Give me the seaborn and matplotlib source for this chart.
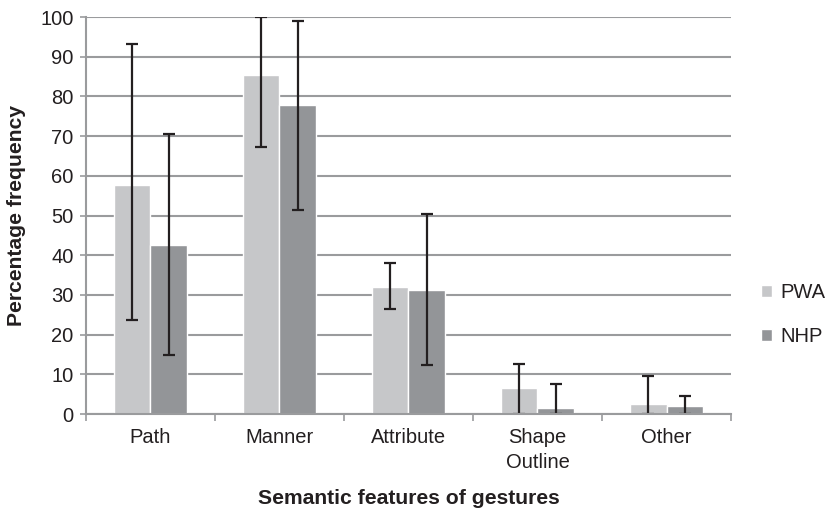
import numpy as np
import pandas as pd
import matplotlib
matplotlib.use("Agg")
import matplotlib.pyplot as plt
import seaborn as sns

# values
categories = ["Path", "Manner", "Attribute", "Shape\nOutline", "Other"]
pwa = [57.7, 85.3, 32.1, 6.5, 2.5]
nhp = [42.6, 77.8, 31.2, 1.4, 2.1]
pwa_err_low = [23.8, 67.2, 26.4, 0.0, 0.0]
pwa_err_high = [93.1, 100.0, 38.0, 12.6, 9.6]
nhp_err_low = [14.8, 51.5, 12.3, 0.0, 0.0]
nhp_err_high = [70.6, 99.0, 50.4, 7.6, 4.5]

df = pd.DataFrame({
    "feature": categories * 2,
    "group": ["PWA"] * 5 + ["NHP"] * 5,
    "value": pwa + nhp,
})

sns.set_style("white")
plt.rcParams["font.family"] = ["Liberation Sans", "DejaVu Sans"]

fig = plt.figure(figsize=(8.29, 5.09), dpi=100)
ax = fig.add_axes([0.1037, 0.1866, 0.7781, 0.78])

grey = "#9a9b9d"
ax.set_axisbelow(True)
ax.yaxis.grid(True, color=grey, linewidth=1.5)

sns.barplot(data=df, x="feature", y="value", hue="group",
            palette={"PWA": "#c6c7c9", "NHP": "#939598"},
            width=0.56, saturation=1, errorbar=None, ax=ax)

# asymmetric error bars on top of each bar
lows = [pwa_err_low, nhp_err_low]
highs = [pwa_err_high, nhp_err_high]
vals = [pwa, nhp]
bar_conts = list(ax.containers)
for k, cont in enumerate(bar_conts):
    xs = [p.get_x() + p.get_width() / 2 for p in cont.patches]
    v = np.array(vals[k])
    yerr = [v - np.array(lows[k]), np.array(highs[k]) - v]
    ax.errorbar(xs, v, yerr=yerr, fmt="none", ecolor="#231f20",
                elinewidth=1.6, capsize=4.5, capthick=1.6)

ax.set_ylim(0, 100)
ax.set_xlim(-0.5, 4.5)
ax.set_yticks(range(0, 101, 10))
ax.tick_params(axis="y", labelsize=14.5, length=4, color=grey, width=1.2,
               left=True, labelcolor="#231f20", pad=5)
ax.set_xticks(range(5))
ax.set_xticks(np.arange(-0.5, 4.6, 1), minor=True)
ax.tick_params(axis="x", which="major", length=0, labelsize=14.5,
               labelcolor="#231f20", pad=10)
ax.tick_params(axis="x", which="minor", length=5, color=grey, width=1.2,
               bottom=True)
for lab in ax.get_xticklabels():
    lab.set_linespacing(1.4)

for s in ["top", "right"]:
    ax.spines[s].set_visible(False)
for s in ["left", "bottom"]:
    ax.spines[s].set_color(grey)
    ax.spines[s].set_linewidth(1.5)

ax.set_xlabel("Semantic features of gestures", fontsize=15.2,
              fontweight="bold", labelpad=12, color="#231f20")
ax.set_ylabel("Percentage frequency", fontsize=15.2, fontweight="bold",
              labelpad=10, color="#231f20")

leg = ax.legend(loc="center left", bbox_to_anchor=(761 / 829, 1 - 314.5 / 509),
                bbox_transform=fig.transFigure, frameon=False,
                fontsize=14.5, handlelength=0.55, handleheight=0.55,
                labelspacing=1.25, handletextpad=0.4, borderpad=0,
                borderaxespad=0)
for t in leg.get_texts():
    t.set_color("#231f20")

fig.savefig("out.png", dpi=100)
